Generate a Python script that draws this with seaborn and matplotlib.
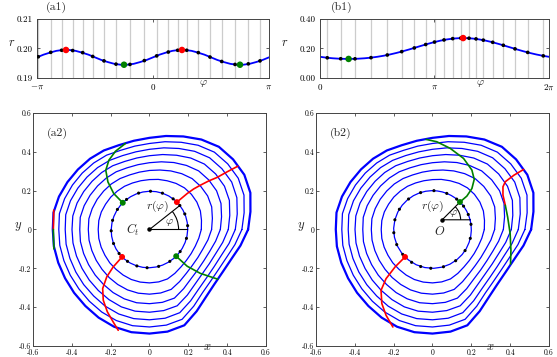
import numpy as np
import matplotlib
matplotlib.use("Agg")
import matplotlib.pyplot as plt
from matplotlib.patches import Arc
import seaborn as sns

sns.set_theme(style="white")
plt.rcParams["font.family"] = ["cmr10", "DejaVu Serif"]
plt.rcParams["mathtext.fontset"] = "cm"
plt.rcParams["axes.unicode_minus"] = False
plt.rcParams["axes.formatter.use_mathtext"] = True

BLUE, RED, GREEN = "#0000ff", "#ff0000", "#008000"

# ---- (a) r(phi) around C_t ----
a_phi_deg = [-180, -170, -160, -150, -140, -130, -120, -110, -100, -90, -80, -70, -60, -50, -40, -30, -20, -10,
             0, 10, 20, 30, 40, 50, 60, 70, 80, 90, 100, 110, 120, 130, 140, 150, 160, 170, 180]
a_r = [0.1970, 0.1979, 0.1986, 0.1992, 0.1995, 0.1995, 0.1992, 0.1986, 0.1979, 0.1970, 0.1961, 0.1954, 0.1948,
       0.1945, 0.1945, 0.1948, 0.1954, 0.1961, 0.1970, 0.1979, 0.1986, 0.1992, 0.1995, 0.1995, 0.1992, 0.1986,
       0.1979, 0.1970, 0.1961, 0.1954, 0.1948, 0.1945, 0.1945, 0.1948, 0.1954, 0.1961, 0.1970]
a_dot_phi = [-3.106, -2.770, -2.473, -2.175, -1.904, -1.633, -1.327, -1.002, -0.623, -0.235,
             0.100, 0.415, 0.669, 0.913, 1.228, 1.544, 1.861, 2.222, 2.582, 2.898]
a_dot_r = [0.1972, 0.1987, 0.1994, 0.1993, 0.1986, 0.1973, 0.1958, 0.1947, 0.1946, 0.1959,
           0.1975, 0.1988, 0.1994, 0.1994, 0.1986, 0.1971, 0.1956, 0.1946, 0.1948, 0.1958]
a_max_phi, a_max_r = [-2.356, 0.785], [0.1995, 0.1995]
a_min_phi, a_min_r = [-0.785, 2.356], [0.1945, 0.1945]

# ---- (b) r(phi) around O ----
b_center = (0.05, 0.05)
b_phi_deg = [0, 10, 20, 30, 40, 50, 60, 70, 80, 90, 100, 110, 120, 130, 140, 150, 160, 170, 180,
             190, 200, 210, 220, 230, 240, 250, 260, 270, 280, 290, 300, 310, 320, 330, 340, 350, 360]
b_r = [0.1437, 0.1379, 0.1337, 0.1309, 0.1295, 0.1295, 0.1309, 0.1337, 0.1379, 0.1437, 0.1509, 0.1596,
       0.1697, 0.1810, 0.1933, 0.2063, 0.2193, 0.2320, 0.2437, 0.2538, 0.2618, 0.2675, 0.2703, 0.2703,
       0.2675, 0.2618, 0.2538, 0.2437, 0.2320, 0.2193, 0.2063, 0.1933, 0.1810, 0.1697, 0.1596, 0.1509, 0.1437]
b_dot_phi = [0.200, 0.568, 0.960, 1.399, 1.847, 2.242, 2.588, 2.900, 3.142, 3.403,
             3.641, 3.861, 4.089, 4.281, 4.481, 4.739, 5.030, 5.351, 5.699, 6.127]
b_dot_r = [0.1370, 0.1305, 0.1300, 0.1379, 0.1560, 0.1787, 0.2037, 0.2270, 0.2437, 0.2580,
           0.2668, 0.2703, 0.2698, 0.2650, 0.2566, 0.2420, 0.2219, 0.1975, 0.1735, 0.1501]
b_max_phi, b_max_r = [3.927], [0.2707]
b_min_phi, b_min_r = [0.785], [0.1293]

# ---- level curves: radius about the origin every 10 deg ----
theta_deg = [0, 10, 20, 30, 40, 50, 60, 70, 80, 90, 100, 110, 120, 130, 140, 150, 160, 170,
             180, 190, 200, 210, 220, 230, 240, 250, 260, 270, 280, 290, 300, 310, 320, 330, 340, 350]
ring1_r = [0.267, 0.272, 0.279, 0.282, 0.282, 0.280, 0.274, 0.267, 0.262, 0.257, 0.255, 0.255,
           0.257, 0.258, 0.260, 0.261, 0.264, 0.265, 0.264, 0.265, 0.265, 0.265, 0.267, 0.268,
           0.271, 0.274, 0.275, 0.275, 0.274, 0.271, 0.261, 0.252, 0.248, 0.248, 0.251, 0.258]
ring2_r = [0.320, 0.329, 0.341, 0.346, 0.345, 0.342, 0.332, 0.321, 0.311, 0.304, 0.300, 0.299,
           0.303, 0.306, 0.308, 0.311, 0.314, 0.317, 0.315, 0.316, 0.316, 0.317, 0.319, 0.323,
           0.327, 0.331, 0.333, 0.333, 0.332, 0.328, 0.310, 0.295, 0.288, 0.288, 0.293, 0.306]
ring3_r = [0.365, 0.377, 0.392, 0.399, 0.398, 0.394, 0.381, 0.367, 0.354, 0.344, 0.339, 0.338,
           0.343, 0.346, 0.349, 0.353, 0.358, 0.362, 0.359, 0.361, 0.361, 0.362, 0.365, 0.369,
           0.375, 0.380, 0.383, 0.382, 0.381, 0.376, 0.352, 0.332, 0.324, 0.323, 0.330, 0.346]
ring4_r = [0.406, 0.420, 0.438, 0.446, 0.445, 0.440, 0.425, 0.407, 0.392, 0.380, 0.374, 0.373,
           0.379, 0.383, 0.386, 0.391, 0.397, 0.401, 0.399, 0.400, 0.400, 0.401, 0.405, 0.410,
           0.417, 0.424, 0.427, 0.426, 0.424, 0.418, 0.390, 0.366, 0.355, 0.355, 0.363, 0.383]
ring5_r = [0.442, 0.459, 0.479, 0.489, 0.487, 0.482, 0.465, 0.444, 0.427, 0.413, 0.406, 0.405,
           0.411, 0.416, 0.420, 0.426, 0.433, 0.438, 0.434, 0.436, 0.436, 0.438, 0.442, 0.447,
           0.456, 0.463, 0.466, 0.465, 0.464, 0.456, 0.424, 0.397, 0.385, 0.384, 0.393, 0.416]
ring6_r = [0.476, 0.495, 0.518, 0.528, 0.526, 0.520, 0.501, 0.478, 0.459, 0.443, 0.436, 0.434,
           0.442, 0.447, 0.452, 0.458, 0.465, 0.471, 0.467, 0.469, 0.469, 0.471, 0.475, 0.482,
           0.491, 0.499, 0.503, 0.502, 0.500, 0.492, 0.456, 0.425, 0.412, 0.411, 0.422, 0.447]
outer_r = [0.508, 0.528, 0.553, 0.564, 0.562, 0.556, 0.535, 0.510, 0.489, 0.472, 0.464, 0.462,
           0.470, 0.476, 0.481, 0.488, 0.496, 0.502, 0.498, 0.500, 0.500, 0.502, 0.507, 0.514,
           0.524, 0.533, 0.537, 0.536, 0.534, 0.525, 0.486, 0.453, 0.437, 0.436, 0.448, 0.476]
rings = [ring1_r, ring2_r, ring3_r, ring4_r, ring5_r, ring6_r]

# ---- gradient paths ----
a_red1_x = [0.139, 0.194, 0.228, 0.262, 0.305, 0.348, 0.400, 0.455]
a_red1_y = [0.139, 0.185, 0.209, 0.228, 0.250, 0.268, 0.297, 0.326]
a_red2_x = [-0.141, -0.187, -0.220, -0.241, -0.238, -0.217, -0.187, -0.161]
a_red2_y = [-0.141, -0.193, -0.244, -0.304, -0.364, -0.424, -0.476, -0.519]
a_grn1_x = [-0.138, -0.184, -0.214, -0.225, -0.209, -0.175, -0.124]
a_grn1_y = [0.138, 0.185, 0.245, 0.305, 0.357, 0.403, 0.443]
a_grn2_x = [0.138, 0.194, 0.262, 0.352]
a_grn2_y = [-0.138, -0.189, -0.226, -0.256]
a_red3_x, a_red3_y = [-0.493, -0.494, -0.495], [0.100, 0.050, 0.000]
a_grn3_x, a_grn3_y = [-0.495, -0.494, -0.492], [0.000, -0.050, -0.100]

b_red1_x = [-0.141, -0.192, -0.239, -0.265, -0.261, -0.239, -0.204]
b_red1_y = [-0.141, -0.192, -0.253, -0.313, -0.381, -0.442, -0.502]
b_grn1_x = [0.141, 0.177, 0.203, 0.215, 0.203, 0.160, 0.091, 0.022, -0.033]
b_grn1_y = [0.141, 0.172, 0.211, 0.258, 0.306, 0.366, 0.418, 0.452, 0.464]
b_red2_x = [0.469, 0.420, 0.375, 0.363, 0.363, 0.375]
b_red2_y = [0.309, 0.280, 0.246, 0.220, 0.177, 0.125]
b_grn2_x = [0.375, 0.387, 0.400, 0.404, 0.402]
b_grn2_y = [0.125, 0.065, -0.021, -0.107, -0.178]


def polar_xy(phi, r, c=(0.0, 0.0)):
    phi, r = np.asarray(phi, float), np.asarray(r, float)
    return c[0] + r * np.cos(phi), c[1] + r * np.sin(phi)


def style_axes(ax, size, xpad, ypad):
    for s in ax.spines.values():
        s.set_color("#444444")
        s.set_linewidth(0.7)
    ax.tick_params(direction="in", top=True, bottom=True, left=True, right=True,
                   length=2.5, width=0.6, colors="#444444", labelcolor="black", labelsize=size)
    ax.tick_params(axis="x", pad=xpad)
    ax.tick_params(axis="y", pad=ypad)


def top_panel(ax, phi_deg, r, dphi, dr, mx, mr, nx, nr, xlim, xt, xtl, ylim, yt, ytl, tag, tagx, phix):
    for p in dphi:
        ax.axvline(p, color="#cccccc", lw=0.9, zorder=0)
    sns.lineplot(x=np.radians(phi_deg), y=r, sort=False, estimator=None, color=BLUE, lw=1.3, ax=ax, zorder=2)
    sns.scatterplot(x=dphi, y=dr, color="black", s=7, edgecolor="none", ax=ax, zorder=3)
    sns.scatterplot(x=mx, y=mr, color=RED, s=22, edgecolor="none", ax=ax, zorder=4)
    sns.scatterplot(x=nx, y=nr, color=GREEN, s=22, edgecolor="none", ax=ax, zorder=4)
    ax.set_xlim(*xlim)
    ax.set_ylim(*ylim)
    ax.set_xticks(xt)
    ax.set_xticklabels(xtl)
    ax.set_yticks(yt)
    ax.set_yticklabels(ytl)
    style_axes(ax, 6.5, 3, 3)
    ax.set_xlabel("")
    ax.set_ylabel("")
    ax.text(phix, -0.1, r"$\varphi$", transform=ax.get_xaxis_transform(), ha="center", va="center", fontsize=8)
    ax.text(tagx, 1.2, tag, transform=ax.transAxes, ha="center", va="center", fontsize=8.5)


def ring_panel(ax, tag):
    for rr in rings:
        x, y = polar_xy(np.radians(theta_deg + [360]), rr + [rr[0]])
        sns.lineplot(x=x, y=y, sort=False, estimator=None, color=BLUE, lw=0.9, ax=ax)
    x, y = polar_xy(np.radians(theta_deg + [360]), outer_r + [outer_r[0]])
    sns.lineplot(x=x, y=y, sort=False, estimator=None, color=BLUE, lw=1.6, ax=ax)
    ax.set_xlim(-0.6, 0.6)
    ax.set_ylim(-0.6, 0.6)
    ticks = [-0.6, -0.4, -0.2, 0, 0.2, 0.4, 0.6]
    labels = ["-0.6", "-0.4", "-0.2", "0", "0.2", "0.4", "0.6"]
    ax.set_xticks(ticks)
    ax.set_xticklabels(labels)
    ax.set_yticks(ticks)
    ax.set_yticklabels(labels)
    style_axes(ax, 5.5, 2.2, 1.2)
    ax.set_xlabel("")
    ax.set_ylabel("")
    ax.text(0.30, -0.005, r"$x$", transform=ax.get_xaxis_transform(), ha="center", va="center", fontsize=9)
    ax.text(-0.063, 0.512, r"$y$", transform=ax.transAxes, ha="center", va="center", fontsize=9)
    ax.text(-0.473, 0.495, tag, ha="center", va="center", fontsize=8.5)


def path(ax, xs, ys, color):
    sns.lineplot(x=xs, y=ys, sort=False, estimator=None, color=color, lw=1.2, ax=ax, zorder=3)


fig = plt.figure(figsize=(5.57, 3.57), dpi=100)
ax_a1 = fig.add_axes([0.0664, 0.7815, 0.4165, 0.1653])
ax_b1 = fig.add_axes([0.5745, 0.7815, 0.4111, 0.1653])
ax_a2 = fig.add_axes([0.0592, 0.0308, 0.4183, 0.6527])
ax_b2 = fig.add_axes([0.5673, 0.0308, 0.4183, 0.6527])

top_panel(ax_a1, a_phi_deg, a_r, a_dot_phi, a_dot_r, a_max_phi, a_max_r, a_min_phi, a_min_r,
          (-np.pi, np.pi), [-np.pi, 0, np.pi], [r"$-\pi$", r"$0$", r"$\pi$"],
          (0.19, 0.21), [0.19, 0.20, 0.21], ["0.19", "0.20", "0.21"], "(a1)", 0.085, 1.354)
ax_a1.text(-0.109, 0.59, r"$r$", transform=ax_a1.transAxes, ha="center", va="center", fontsize=9)
top_panel(ax_b1, b_phi_deg, b_r, b_dot_phi, b_dot_r, b_max_phi, b_max_r, b_min_phi, b_min_r,
          (0, 2 * np.pi), [0, np.pi, 2 * np.pi], [r"$0$", r"$\pi$", r"$2\pi$"],
          (0.0, 0.4), [0.0, 0.2, 0.4], ["0.00", "0.20", "0.40"], "(b1)", 0.095, 4.39)
ax_b1.text(-0.153, 0.59, r"$r$", transform=ax_b1.transAxes, ha="center", va="center", fontsize=9)

# (a2)
ring_panel(ax_a2, "(a2)")
x, y = polar_xy(np.radians(a_phi_deg), a_r)
sns.lineplot(x=x, y=y, sort=False, estimator=None, color=BLUE, lw=0.9, ax=ax_a2)
path(ax_a2, a_red1_x, a_red1_y, RED)
path(ax_a2, a_red2_x, a_red2_y, RED)
path(ax_a2, a_grn1_x, a_grn1_y, GREEN)
path(ax_a2, a_grn2_x, a_grn2_y, GREEN)
path(ax_a2, a_red3_x, a_red3_y, RED)
path(ax_a2, a_grn3_x, a_grn3_y, GREEN)
dx, dy = polar_xy(a_dot_phi, a_dot_r)
sns.scatterplot(x=dx, y=dy, color="black", s=5, edgecolor="none", ax=ax_a2, zorder=4)
mx, my = polar_xy(a_max_phi, a_max_r)
sns.scatterplot(x=mx, y=my, color=RED, s=18, edgecolor="none", ax=ax_a2, zorder=5)
nx, ny = polar_xy(a_min_phi, a_min_r)
sns.scatterplot(x=nx, y=ny, color=GREEN, s=18, edgecolor="none", ax=ax_a2, zorder=5)
ex, ey = polar_xy([0.0, 0.669], [a_r[18], a_dot_r[12]])
ax_a2.plot([ex[0], 0, ex[1]], [ey[0], 0, ey[1]], color="black", lw=0.8, zorder=4)
ax_a2.plot([0], [0], "o", color="black", ms=2.2, zorder=5)
ax_a2.add_patch(Arc((0, 0), 0.30, 0.30, theta1=0, theta2=np.degrees(0.669), color="black", lw=0.8))
ax_a2.text(0.105, 0.035, r"$\varphi$", ha="center", va="center", fontsize=8)
ax_a2.text(0.04, 0.12, r"$r(\varphi)$", ha="center", va="center", fontsize=8.5)
ax_a2.text(-0.084, 0.0, r"$C_t$", ha="center", va="center", fontsize=9)

# (b2)
ring_panel(ax_b2, "(b2)")
x, y = polar_xy(np.radians(b_phi_deg), b_r, b_center)
sns.lineplot(x=x, y=y, sort=False, estimator=None, color=BLUE, lw=0.9, ax=ax_b2)
path(ax_b2, b_red1_x, b_red1_y, RED)
path(ax_b2, b_grn1_x, b_grn1_y, GREEN)
path(ax_b2, b_red2_x, b_red2_y, RED)
path(ax_b2, b_grn2_x, b_grn2_y, GREEN)
dx, dy = polar_xy(b_dot_phi, b_dot_r, b_center)
sns.scatterplot(x=dx, y=dy, color="black", s=5, edgecolor="none", ax=ax_b2, zorder=4)
mx, my = polar_xy(b_max_phi, b_max_r, b_center)
sns.scatterplot(x=mx, y=my, color=RED, s=18, edgecolor="none", ax=ax_b2, zorder=5)
nx, ny = polar_xy(b_min_phi, b_min_r, b_center)
sns.scatterplot(x=nx, y=ny, color=GREEN, s=18, edgecolor="none", ax=ax_b2, zorder=5)
ex, ey = polar_xy([0.0, b_min_phi[0]], [b_r[0], b_min_r[0]], b_center)
ax_b2.plot([ex[0], b_center[0], ex[1]], [ey[0], b_center[1], ey[1]], color="black", lw=0.8, zorder=4)
ax_b2.plot([b_center[0]], [b_center[1]], "o", color="black", ms=2.2, zorder=5)
ax_b2.add_patch(Arc(b_center, 0.19, 0.19, theta1=0, theta2=45, color="black", lw=0.8))
ax_b2.text(0.11, 0.083, r"$\varphi$", ha="center", va="center", fontsize=8)
ax_b2.text(0.0, 0.12, r"$r(\varphi)$", ha="center", va="center", fontsize=8.5)
ax_b2.text(0.035, -0.01, r"$O$", ha="center", va="center", fontsize=9)

fig.savefig("out.png", dpi=100)
